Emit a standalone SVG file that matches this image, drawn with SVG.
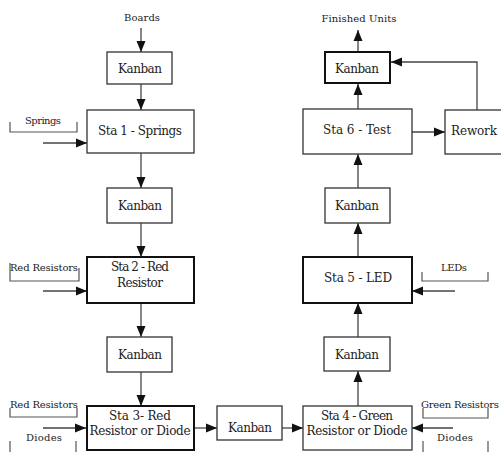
<svg xmlns="http://www.w3.org/2000/svg" width="501" height="452" viewBox="0 0 501 452">
<defs>
<marker id="ah" markerUnits="userSpaceOnUse" markerWidth="12" markerHeight="10" refX="11" refY="5" orient="auto">
<path d="M0,0.5 L11,5 L0,9.5 Z" fill="#111"/>
</marker>
<style>
.box{fill:#fff;stroke:#333;stroke-width:1.3}
.bold{stroke:#111;stroke-width:2}
text{font-family:'DejaVu Serif','Liberation Serif',serif}
.t{font-size:12px;fill:#222;text-anchor:middle}
.s{font-size:10px;fill:#222;text-anchor:middle}
.c{fill:none;stroke:#444;stroke-width:1.3}
.br{fill:none;stroke:#555;stroke-width:1.2}
</style>
</defs>
<rect width="501" height="452" fill="#fff"/>

<g id="connectors">
<path class="c" d="M141,28 V52" marker-end="url(#ah)"/>
<path class="c" d="M141,84 V110" marker-end="url(#ah)"/>
<path class="c" d="M141,153 V188" marker-end="url(#ah)"/>
<path class="c" d="M141,223 V257" marker-end="url(#ah)"/>
<path class="c" d="M141,303 V337" marker-end="url(#ah)"/>
<path class="c" d="M141,372 V406" marker-end="url(#ah)"/>
<path class="c" d="M194,428 H217" marker-end="url(#ah)"/>
<path class="c" d="M282,428 H303" marker-end="url(#ah)"/>
<path class="c" d="M358,406 V371" marker-end="url(#ah)"/>
<path class="c" d="M358,337 V303" marker-end="url(#ah)"/>
<path class="c" d="M358,257 V223" marker-end="url(#ah)"/>
<path class="c" d="M358,188 V154" marker-end="url(#ah)"/>
<path class="c" d="M358,109 V84" marker-end="url(#ah)"/>
<path class="c" d="M358,52 V30" marker-end="url(#ah)"/>
<path class="c" d="M412,132 H445" marker-end="url(#ah)"/>
<path class="c" d="M477,110 V62 H391" marker-end="url(#ah)"/>
<path class="c" d="M43,143 H87" marker-end="url(#ah)"/>
<path class="c" d="M43,291 H87" marker-end="url(#ah)"/>
<path class="c" d="M43,428 H86" marker-end="url(#ah)"/>
<path class="c" d="M455,291 H412" marker-end="url(#ah)"/>
<path class="c" d="M453,428 H412" marker-end="url(#ah)"/>
</g>

<g id="boards"><text class="s" x="142" y="21" textLength="36">Boards</text></g>
<g id="finished"><text class="s" x="359" y="22" textLength="75">Finished Units</text></g>

<g id="kanban1"><rect class="box" x="107" y="52" width="65" height="32"/><text class="t" x="140" y="73" textLength="44">Kanban</text></g>
<g id="sta1"><rect class="box" x="87" y="110" width="107" height="43"/><text class="t" x="140" y="135" textLength="84">Sta 1 - Springs</text></g>
<g id="kanban2"><rect class="box" x="107" y="188" width="65" height="35"/><text class="t" x="140" y="210" textLength="44">Kanban</text></g>
<g id="sta2"><rect class="box bold" x="87" y="257" width="107" height="46"/><text class="t" x="140" y="271" textLength="58">Sta 2 - Red</text><text class="t" x="140" y="287" textLength="46">Resistor</text></g>
<g id="kanban3"><rect class="box" x="107" y="337" width="65" height="35"/><text class="t" x="140" y="359" textLength="44">Kanban</text></g>
<g id="sta3"><rect class="box bold" x="87" y="406" width="107" height="44"/><text class="t" x="140" y="420" textLength="62">Sta 3- Red</text><text class="t" x="140" y="435" textLength="101">Resistor or Diode</text></g>
<g id="kanbanMid"><rect class="box" x="217" y="406" width="65" height="34"/><text class="t" x="250" y="432" textLength="44">Kanban</text></g>
<g id="sta4"><rect class="box" x="303" y="406" width="109" height="44"/><text class="t" x="357" y="420" textLength="72">Sta 4 - Green</text><text class="t" x="357" y="435" textLength="101">Resistor or Diode</text></g>
<g id="kanban5"><rect class="box" x="324" y="337" width="66" height="34"/><text class="t" x="357" y="359" textLength="44">Kanban</text></g>
<g id="sta5"><rect class="box bold" x="303" y="257" width="109" height="46"/><text class="t" x="358" y="282" textLength="68">Sta 5 - LED</text></g>
<g id="kanban4"><rect class="box" x="325" y="188" width="65" height="35"/><text class="t" x="357" y="210" textLength="44">Kanban</text></g>
<g id="sta6"><rect class="box" x="303" y="109" width="109" height="45"/><text class="t" x="357" y="134" textLength="68">Sta 6 - Test</text></g>
<g id="kanbanTop"><rect class="box bold" x="325" y="52" width="65" height="31"/><text class="t" x="357" y="73" textLength="44">Kanban</text></g>
<g id="rework"><rect class="box" x="445" y="110" width="60" height="44"/><text class="t" x="474" y="135" textLength="46">Rework</text></g>

<g id="springs"><path class="br" d="M10,122 V132 H77 V122"/><text class="s" x="43" y="124" textLength="36">Springs</text></g>
<g id="redRes1"><path class="br" d="M10,263 V281 H79 V268"/><text class="s" x="44" y="271" textLength="68">Red Resistors</text></g>
<g id="redRes2"><path class="br" d="M10,408 V417 H77 V408"/><text class="s" x="44" y="408" textLength="68">Red Resistors</text></g>
<g id="diodes1"><path class="br" d="M10,441 V452 M76,441 V452"/><text class="s" x="44" y="441" textLength="36">Diodes</text></g>
<g id="leds"><path class="br" d="M422,272 V281 H488 V272"/><text class="s" x="454" y="271" textLength="26">LEDs</text></g>
<g id="greenRes"><path class="br" d="M423,408 V418 H488 V408"/><text class="s" x="460" y="408" textLength="78">Green Resistors</text></g>
<g id="diodes2"><path class="br" d="M423,441 V452 M488,441 V452"/><text class="s" x="455" y="441" textLength="36">Diodes</text></g>
</svg>
